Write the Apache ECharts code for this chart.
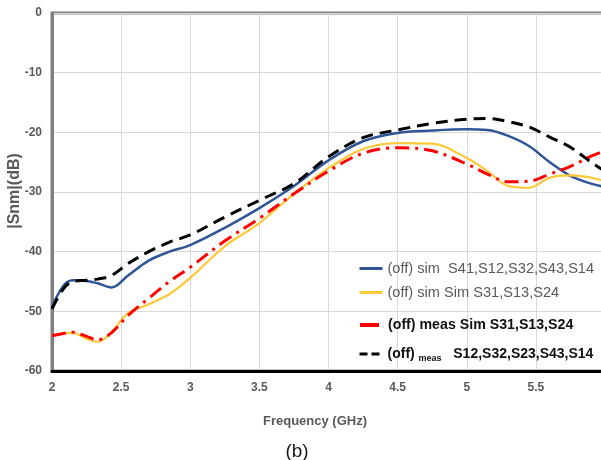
<!DOCTYPE html>
<html>
<head>
<meta charset="utf-8">
<script src="https://cdn.jsdelivr.net/npm/echarts@6/dist/echarts.min.js"></script>
<style>
  html, body { margin: 0; padding: 0; background: #ffffff; }
  #chart { width: 601px; height: 460px; }
</style>
</head>
<body>
<div id="chart"></div>
<script>
// Frequency sample points (GHz)
const freq = [2.0, 2.08, 2.15, 2.25, 2.33, 2.43, 2.55, 2.7, 2.85, 3.0, 3.25, 3.5, 3.75,
              4.0, 4.25, 4.5, 4.75, 5.0, 5.15, 5.3, 5.45, 5.6, 5.75, 5.9, 6.03];

// |Snm| in dB for each trace
const simThru   = [-49.3, -45.8, -44.8, -44.9, -45.3, -46.0, -44.0, -41.5, -40.0, -38.9, -36.0, -32.7, -29.0,
                   -24.7, -21.5, -20.1, -19.7, -19.5, -19.6, -20.6, -22.3, -25.0, -27.3, -28.6, -29.3];
const simCross  = [-54.1, -53.7, -53.6, -54.6, -55.1, -53.5, -50.3, -48.8, -47.1, -44.4, -39.1, -35.2, -30.3,
                   -26.0, -22.8, -21.8, -21.9, -24.3, -26.5, -29.0, -29.3, -27.6, -27.2, -27.6, -28.4];
const measCross = [-54.1, -53.7, -53.5, -54.2, -54.8, -53.6, -50.7, -47.8, -45.0, -42.6, -38.2, -34.4, -30.3,
                   -26.5, -23.5, -22.6, -23.1, -25.3, -27.0, -28.3, -28.2, -27.0, -25.7, -24.0, -22.8];
const measThru  = [-49.6, -46.3, -45.0, -44.8, -44.6, -44.0, -42.0, -40.0, -38.4, -37.2, -34.2, -31.4, -28.6,
                   -24.1, -20.9, -19.6, -18.5, -17.8, -17.7, -18.2, -19.1, -20.8, -22.5, -25.0, -27.0];

// Series / legend labels
const names = [
  '(off) sim  S41,S12,S32,S43,S14',
  '(off) sim Sim S31,S13,S24',
  '(off) meas Sim S31,S13,S24',
  '(off) meas S12,S32,S23,S43,S14'
];

// Axis ranges and tick steps
const xRange = [2, 6], xStep = 0.5;
const yRange = [-60, 0], yStep = 10;

const pairs = ys => freq.map((f, i) => [f, ys[i]]);

const FONT = '"Liberation Sans", Arial, sans-serif';
const GRAY = '#595959';

const chart = echarts.init(document.getElementById('chart'), null, { renderer: 'canvas' });

function lineSeries(name, ys, color, width, type, z) {
  return {
    name, type: 'line', data: pairs(ys), smooth: 0.35, symbol: 'none', z,
    lineStyle: { color, width, type, cap: 'butt' },
    itemStyle: { color },
    emphasis: { disabled: true },
    animation: false,
    clip: true
  };
}

function legendBox(name, top, textStyle, iconStyle, formatter) {
  return {
    data: [name], left: 358, top, padding: 0, itemWidth: 23, itemHeight: 14,
    selectedMode: false, textStyle, lineStyle: iconStyle,
    itemStyle: { opacity: 0 },
    formatter
  };
}

chart.setOption({
  backgroundColor: '#ffffff',
  animation: false,
  grid: {
    left: 52, top: 13, right: -4, bottom: 89,
    outerBoundsMode: 'none', containLabel: false,
    show: true, borderColor: '#7f7f7f', borderWidth: 3, backgroundColor: 'transparent'
  },
  xAxis: {
    type: 'value', min: xRange[0], max: xRange[1], interval: xStep,
    axisLine: { show: true, onZero: false, lineStyle: { color: '#000000', width: 3 } },
    axisTick: { show: false },
    splitLine: { show: true, lineStyle: { color: '#d9d9d9', width: 1 } },
    axisLabel: { color: GRAY, fontFamily: FONT, fontWeight: 'bold', fontSize: 12, margin: 11 }
  },
  yAxis: {
    type: 'value', min: yRange[0], max: yRange[1], interval: yStep,
    axisLine: { show: true, onZero: false, lineStyle: { color: '#7f7f7f', width: 3 } },
    axisTick: { show: false },
    splitLine: { show: true, lineStyle: { color: '#d9d9d9', width: 1 } },
    axisLabel: { color: GRAY, fontFamily: FONT, fontWeight: 'bold', fontSize: 12, margin: 10 }
  },
  legend: [
    legendBox(names[0], 261, { fontSize: 14.6, color: GRAY, fontFamily: FONT },
              { width: 3 }),
    legendBox(names[1], 285, { fontSize: 14.6, color: GRAY, fontFamily: FONT },
              { width: 3 }),
    legendBox(names[2], 318, { fontSize: 14.2, color: '#111111', fontWeight: 'bold', fontFamily: FONT },
              { width: 4, type: [19, 4] }),
    legendBox(names[3], 347, {
                fontSize: 14, color: '#111111', fontWeight: 'bold', fontFamily: FONT,
                rich: {
                  b: { fontSize: 14, color: '#111111', fontWeight: 'bold', fontFamily: FONT },
                  s: { fontSize: 9, color: '#111111', fontWeight: 'bold', fontFamily: FONT, padding: [9, 0, 0, 0] }
                }
              },
              { width: 3, type: [8, 4] },
              () => '{b|(off) }{s|meas}{b|   S12,S32,S23,S43,S14}')
  ],
  graphic: [
    {
      type: 'text', x: 315, y: 421,
      style: { text: 'Frequency (GHz)', fill: GRAY, font: 'bold 13px ' + FONT, align: 'center', verticalAlign: 'middle' }
    },
    {
      type: 'text', x: 15, y: 191, rotation: Math.PI / 2,
      style: { text: '|Snm|(dB)', fill: GRAY, font: 'bold 16px ' + FONT, align: 'center', verticalAlign: 'middle' }
    },
    {
      type: 'text', x: 297, y: 452,
      style: { text: '(b)', fill: '#1a1a1a', font: '19px ' + FONT, align: 'center', verticalAlign: 'middle' }
    }
  ],
  series: [
    lineSeries(names[0], simThru, '#2f5597', 2.5, 'solid', 2),
    lineSeries(names[1], simCross, '#ffc839', 2.2, 'solid', 3),
    lineSeries(names[2], measCross, '#ff0000', 3, [14, 6, 3, 6], 4),
    lineSeries(names[3], measThru, '#000000', 3, [12, 7], 5)
  ]
});
</script>
</body>
</html>
